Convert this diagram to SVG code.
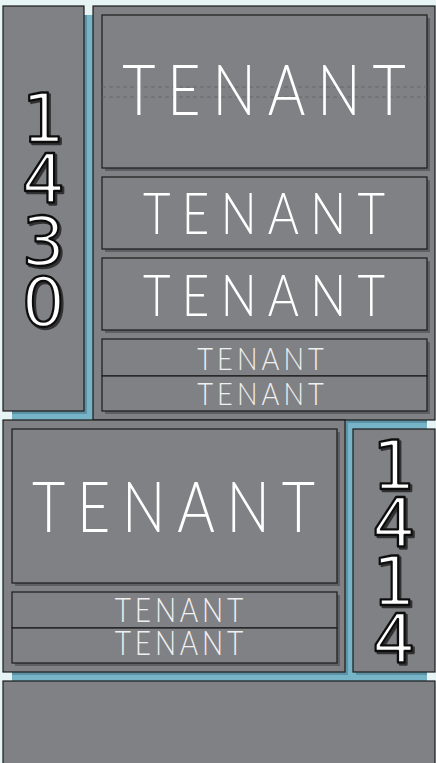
<svg xmlns="http://www.w3.org/2000/svg" width="436" height="763" viewBox="0 0 436 763">
<defs>
<style>
.cab{fill:#808185;stroke:#1c1c1c;stroke-width:1.2}
.pnl{fill:#808185;stroke:#1c1c1c;stroke-width:1.2}
.psh{fill:#5e5f62}
.bsh{fill:#5c93a6}
.ten{font-family:Lato,"Liberation Sans",sans-serif;font-weight:300;fill:#ffffff;text-anchor:middle}
.tsm{font-family:Lato,"Liberation Sans",sans-serif;font-weight:300;fill:#f0f0f0;text-anchor:middle}
.dig{font-family:"DejaVu Sans",sans-serif;font-size:68px;text-anchor:middle;fill:#ffffff;stroke:#111111;stroke-width:2.3;stroke-linejoin:round;filter:url(#dsh)}
.guide{stroke:#646568;stroke-width:0.9;stroke-dasharray:4 3;fill:none}
</style>
<filter id="dsh" x="-20%" y="-20%" width="140%" height="140%">
<feDropShadow dx="2" dy="2" stdDeviation="0.3" flood-color="#2a2a2c" flood-opacity="0.9"/>
</filter>
<clipPath id="blueClip"><rect x="12" y="15" width="415" height="666"/></clipPath>
</defs>
<rect width="436" height="763" fill="#e7f4f5"/>
<rect x="12" y="15" width="415" height="666" fill="#78b4c8"/>
<g clip-path="url(#blueClip)">
<rect class="bsh" x="6" y="9" width="81" height="405"/>
<rect class="bsh" x="96" y="9" width="342" height="414"/>
<rect class="bsh" x="6" y="423" width="342" height="252"/>
<rect class="bsh" x="356" y="432" width="82" height="243"/>
</g>

<g id="sign-1430">
<rect class="cab" x="3" y="6" width="81" height="405"/>
<text class="dig"><tspan x="43.5" y="142">1</tspan><tspan x="43.5" y="203">4</tspan><tspan x="43.5" y="265">3</tspan><tspan x="43.5" y="326">0</tspan></text>
</g>

<g id="cabinet-upper">
<rect class="cab" x="93" y="6" width="342" height="414"/>
</g>
<g id="tenant-u1">
<rect class="psh" x="105" y="18" width="325" height="153"/>
<rect class="pnl" x="102" y="15" width="325" height="153"/>
<g id="guides">
<line class="guide" x1="102" y1="87" x2="427" y2="87"/>
<line class="guide" x1="102" y1="97" x2="427" y2="97"/>
</g>
<text class="ten" transform="translate(264,115) scale(0.82,1)" font-size="70" textLength="346" lengthAdjust="spacing">TENANT</text>
</g>
<g id="tenant-u2">
<rect class="psh" x="105" y="180" width="325" height="72"/>
<rect class="pnl" x="102" y="177" width="325" height="72"/>
<text class="ten" transform="translate(264,234) scale(0.82,1)" font-size="58" textLength="295" lengthAdjust="spacing">TENANT</text>
</g>
<g id="tenant-u3">
<rect class="psh" x="105" y="261" width="325" height="72"/>
<rect class="pnl" x="102" y="258" width="325" height="72"/>
<text class="ten" transform="translate(264,316) scale(0.82,1)" font-size="58" textLength="295" lengthAdjust="spacing">TENANT</text>
</g>
<g id="tenant-u4">
<rect class="psh" x="105" y="342" width="325" height="72"/>
<rect class="pnl" x="102" y="339" width="325" height="37"/>
<text class="tsm" transform="translate(260.5,370) scale(0.85,1)" font-size="32" textLength="149" lengthAdjust="spacing">TENANT</text>
</g>
<g id="tenant-u5">
<rect class="pnl" x="102" y="376" width="325" height="35"/>
<text class="tsm" transform="translate(260.5,405) scale(0.85,1)" font-size="32" textLength="149" lengthAdjust="spacing">TENANT</text>
</g>

<g id="cabinet-lower">
<rect class="cab" x="3" y="420" width="342" height="252"/>
</g>
<g id="tenant-l1">
<rect class="psh" x="15" y="432" width="325" height="154"/>
<rect class="pnl" x="12" y="429" width="325" height="154"/>
<text class="ten" transform="translate(173.5,532) scale(0.82,1)" font-size="70" textLength="345" lengthAdjust="spacing">TENANT</text>
</g>
<g id="tenant-l2">
<rect class="psh" x="15" y="595" width="325" height="71"/>
<rect class="pnl" x="12" y="592" width="325" height="36"/>
<text class="tsm" transform="translate(179,622) scale(0.85,1)" font-size="33" textLength="151" lengthAdjust="spacing">TENANT</text>
</g>
<g id="tenant-l3">
<rect class="pnl" x="12" y="628" width="325" height="35"/>
<text class="tsm" transform="translate(179,655) scale(0.85,1)" font-size="33" textLength="151" lengthAdjust="spacing">TENANT</text>
</g>

<g id="sign-1414">
<rect class="cab" x="353" y="429" width="82" height="243"/>
<text class="dig"><tspan x="394" y="489">1</tspan><tspan x="394" y="547">4</tspan><tspan x="394" y="605">1</tspan><tspan x="394" y="663">4</tspan></text>
</g>

<g id="base">
<rect class="cab" x="3" y="681" width="432" height="84"/>
</g>
<g id="connectors"/>
</svg>
